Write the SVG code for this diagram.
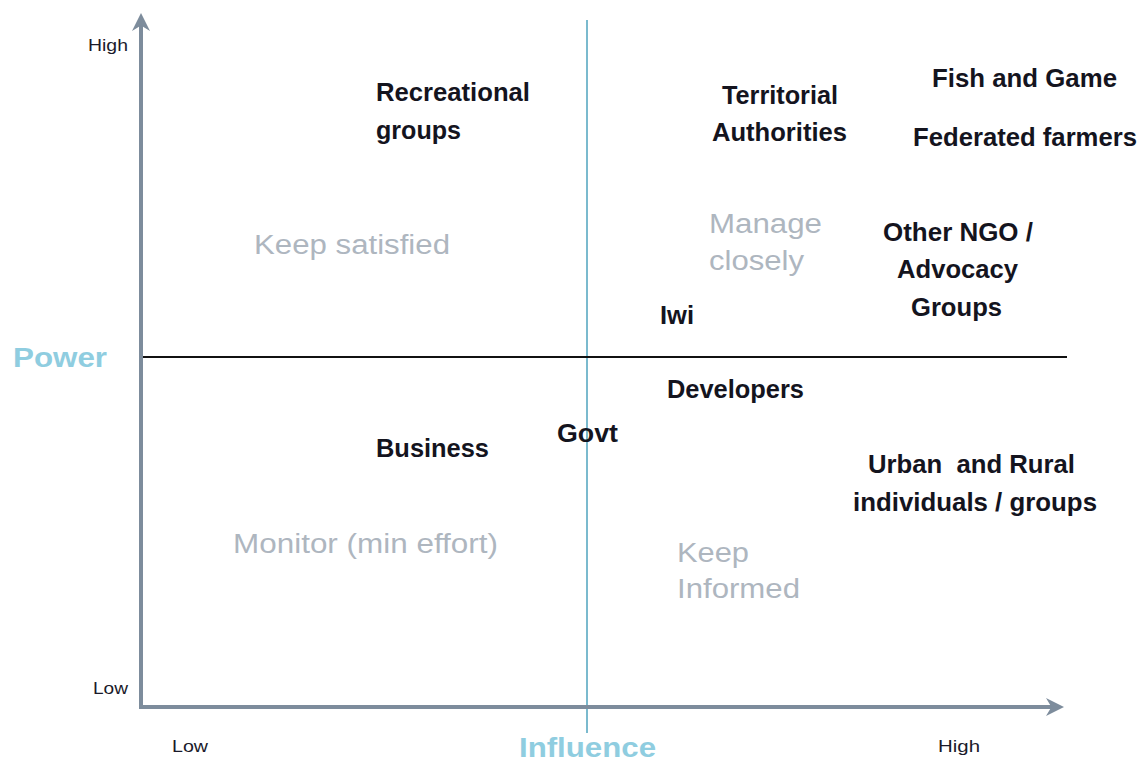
<svg xmlns="http://www.w3.org/2000/svg" width="1142" height="765" viewBox="0 0 1142 765">
  <style>
    .lbl { font-family: "Liberation Sans Narrow", "Liberation Sans", Arial, sans-serif; font-weight: bold; font-size: 26px; fill: #14141e; }
    .zone { font-family: "Liberation Sans", Arial, sans-serif; font-size: 27px; fill: #aeb6bf; }
    .tick { font-family: "Liberation Sans Narrow", "Liberation Sans", Arial, sans-serif; font-size: 17px; fill: #1a1a2a; }
    .axis-title { font-family: "Liberation Sans", Arial, sans-serif; font-weight: bold; font-size: 27px; fill: #8fcde0; }
    .axis { stroke: #7d8c9c; stroke-width: 4; fill: none; }
  </style>
  <defs>
    <marker id="arrow" viewBox="0 0 10 10" refX="5" refY="5" markerWidth="4.5" markerHeight="4.5" orient="auto">
      <path d="M0,0 L10,5 L0,10 L3,5 Z" fill="#7d8c9c"/>
    </marker>
  </defs>
  <rect width="1142" height="765" fill="#ffffff"/>

  <g id="connectors">
    <!-- quadrant dividers -->
    <line x1="587" y1="20" x2="587" y2="733" stroke="#5aa9c2" stroke-width="1.6"/>
    <line x1="141" y1="357" x2="1067" y2="357" stroke="#111111" stroke-width="2"/>
    <!-- axes -->
    <line class="axis" x1="141" y1="707" x2="141" y2="22" marker-end="url(#arrow)"/>
    <line class="axis" x1="139" y1="707" x2="1055" y2="707" marker-end="url(#arrow)"/>
  </g>

  <g id="axis-labels">
    <text class="tick" x="88" y="51" textLength="40" lengthAdjust="spacingAndGlyphs">High</text>
    <text class="tick" x="93" y="694" textLength="35" lengthAdjust="spacingAndGlyphs">Low</text>
    <text class="tick" x="172" y="752" textLength="36" lengthAdjust="spacingAndGlyphs">Low</text>
    <text class="tick" x="938" y="752" textLength="42" lengthAdjust="spacingAndGlyphs">High</text>
    <text class="axis-title" x="13" y="367" textLength="94" lengthAdjust="spacingAndGlyphs">Power</text>
    <text class="axis-title" x="519" y="757" textLength="137" lengthAdjust="spacingAndGlyphs">Influence</text>
  </g>

  <g id="zone-keep-satisfied"><text class="zone" x="254" y="254" textLength="196" lengthAdjust="spacingAndGlyphs">Keep satisfied</text></g>
  <g id="zone-manage-closely">
    <text class="zone" x="709" y="233" textLength="113" lengthAdjust="spacingAndGlyphs">Manage</text>
    <text class="zone" x="709" y="270" textLength="95" lengthAdjust="spacingAndGlyphs">closely</text>
  </g>
  <g id="zone-monitor"><text class="zone" x="233" y="553" textLength="265" lengthAdjust="spacingAndGlyphs">Monitor (min effort)</text></g>
  <g id="zone-keep-informed">
    <text class="zone" x="677" y="562" textLength="72" lengthAdjust="spacingAndGlyphs">Keep</text>
    <text class="zone" x="677" y="598" textLength="123" lengthAdjust="spacingAndGlyphs">Informed</text>
  </g>

  <g id="node-recreational">
    <text class="lbl" x="376" y="101" textLength="154" lengthAdjust="spacingAndGlyphs">Recreational</text>
    <text class="lbl" x="376" y="139" textLength="85" lengthAdjust="spacingAndGlyphs">groups</text>
  </g>
  <g id="node-territorial">
    <text class="lbl" x="722" y="104" textLength="116" lengthAdjust="spacingAndGlyphs">Territorial</text>
    <text class="lbl" x="712" y="141" textLength="135" lengthAdjust="spacingAndGlyphs">Authorities</text>
  </g>
  <g id="node-fish-game"><text class="lbl" x="932" y="87" textLength="185" lengthAdjust="spacingAndGlyphs">Fish and Game</text></g>
  <g id="node-federated"><text class="lbl" x="913" y="146" textLength="224" lengthAdjust="spacingAndGlyphs">Federated farmers</text></g>
  <g id="node-ngo">
    <text class="lbl" x="883" y="241" textLength="150" lengthAdjust="spacingAndGlyphs">Other NGO /</text>
    <text class="lbl" x="897" y="278" textLength="121" lengthAdjust="spacingAndGlyphs">Advocacy</text>
    <text class="lbl" x="911" y="316" textLength="91" lengthAdjust="spacingAndGlyphs">Groups</text>
  </g>
  <g id="node-iwi"><text class="lbl" x="660" y="324" textLength="34" lengthAdjust="spacingAndGlyphs">Iwi</text></g>
  <g id="node-developers"><text class="lbl" x="667" y="398" textLength="137" lengthAdjust="spacingAndGlyphs">Developers</text></g>
  <g id="node-govt"><text class="lbl" x="557" y="442" textLength="61" lengthAdjust="spacingAndGlyphs">Govt</text></g>
  <g id="node-business"><text class="lbl" x="376" y="457" textLength="113" lengthAdjust="spacingAndGlyphs">Business</text></g>
  <g id="node-urban-rural">
    <text class="lbl" x="868" y="473" textLength="207" lengthAdjust="spacingAndGlyphs" xml:space="preserve">Urban  and Rural</text>
    <text class="lbl" x="853" y="511" textLength="244" lengthAdjust="spacingAndGlyphs">individuals / groups</text>
  </g>
</svg>
